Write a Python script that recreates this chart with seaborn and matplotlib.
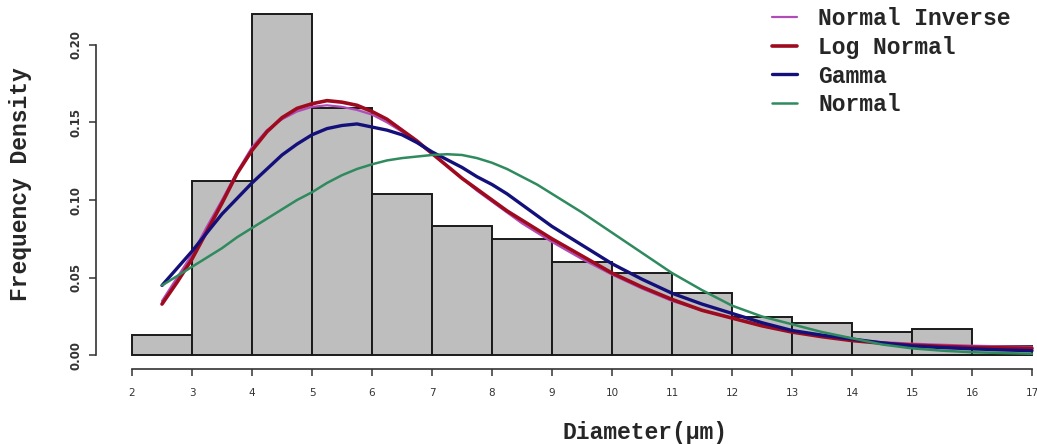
import matplotlib
matplotlib.use('Agg')
import matplotlib.pyplot as plt
import seaborn as sns

# histogram bins (diameter, um) and frequency density
bin_edges = list(range(2, 18))
bin_density = [0.013, 0.1125, 0.220, 0.159, 0.104, 0.083, 0.0746, 0.060,
               0.053, 0.040, 0.0245, 0.0205, 0.0148, 0.0167, 0.006]

# fitted curves (finer steps where they bend most)
curve_x = [2.5, 2.75, 3.0, 3.25, 3.5, 3.75, 4.0, 4.25, 4.5, 4.75, 5.0, 5.25,
           5.5, 5.75, 6.0, 6.25, 6.5, 6.75, 7.0, 7.25, 7.5, 7.75, 8.0, 8.25,
           8.5, 8.75, 9.0,
           9.5, 10.0, 10.5, 11.0, 11.5, 12.0, 12.5, 13.0, 13.5, 14.0, 14.5,
           15.0, 15.5, 16.0, 16.5, 17.0]
normal_inverse = [0.035, 0.050, 0.065, 0.083, 0.100, 0.118, 0.134, 0.145,
                  0.152, 0.157, 0.160, 0.161, 0.160, 0.158, 0.155, 0.150,
                  0.144, 0.137, 0.130, 0.122, 0.114, 0.106, 0.099, 0.092,
                  0.085, 0.079, 0.073,
                  0.062, 0.052, 0.043, 0.035, 0.029, 0.024, 0.019, 0.015,
                  0.0125, 0.010, 0.0085, 0.0075, 0.0068, 0.0062, 0.0058,
                  0.0055]
log_normal = [0.033, 0.047, 0.062, 0.080, 0.098, 0.117, 0.132, 0.144,
              0.153, 0.159, 0.162, 0.164, 0.163, 0.161, 0.157, 0.152,
              0.145, 0.138, 0.130, 0.122, 0.114, 0.107, 0.100, 0.093,
              0.087, 0.081, 0.075,
              0.064, 0.053, 0.044, 0.036, 0.029, 0.024, 0.019, 0.015,
              0.012, 0.0095, 0.0078, 0.0066, 0.0058, 0.0052, 0.0048,
              0.0045]
gamma = [0.045, 0.056, 0.067, 0.079, 0.091, 0.101, 0.111, 0.120,
         0.129, 0.136, 0.142, 0.146, 0.148, 0.149, 0.147, 0.145,
         0.142, 0.137, 0.131, 0.126, 0.121, 0.115, 0.110, 0.104,
         0.097, 0.090, 0.083,
         0.071, 0.059, 0.049, 0.040, 0.033, 0.027, 0.021, 0.016,
         0.013, 0.0105, 0.008, 0.006, 0.005, 0.0042, 0.0035, 0.003]
normal = [0.045, 0.051, 0.057, 0.063, 0.069, 0.076, 0.082, 0.088,
          0.094, 0.100, 0.105, 0.111, 0.116, 0.120, 0.123, 0.1255,
          0.127, 0.128, 0.129, 0.1295, 0.129, 0.127, 0.124, 0.120,
          0.115, 0.110, 0.104,
          0.092, 0.079, 0.066, 0.053, 0.042, 0.032, 0.025, 0.020,
          0.015, 0.011, 0.007, 0.0045, 0.003, 0.002, 0.0015, 0.001]

y_ticks = [0.0, 0.05, 0.10, 0.15, 0.20]
y_labels = ['0.00', '0.05', '0.10', '0.15', '0.20']

sns.set_style('white')
plt.rcParams['font.family'] = ['Liberation Mono', 'DejaVu Sans']

fig = plt.figure(figsize=(10.37, 4.44), dpi=100)
ax = fig.add_axes([96 / 1037, 75 / 444, 972 / 1037, 369 / 444])

mids = [e + 0.5 for e in bin_edges[:-1]]
sns.histplot(x=mids, weights=bin_density, bins=bin_edges, stat='count',
             color='#bebebe', edgecolor='#1a1a1a', linewidth=1.4, alpha=1,
             ax=ax)

sns.lineplot(x=curve_x, y=normal_inverse, color='#b04cb8', lw=1.6,
             label='Normal Inverse', ax=ax)
sns.lineplot(x=curve_x, y=log_normal, color='#9e0a1e', lw=2.6,
             label='Log Normal', ax=ax)
sns.lineplot(x=curve_x, y=gamma, color='#14107a', lw=2.4,
             label='Gamma', ax=ax)
sns.lineplot(x=curve_x, y=normal, color='#2f8a5e', lw=1.8,
             label='Normal', ax=ax)

ax.set_xlim(1.4, 17.6)
ax.set_ylim(-0.0088, 0.2288)

for s in ['top', 'right']:
    ax.spines[s].set_visible(False)
ax.spines['left'].set_bounds(0, 0.20)
ax.spines['bottom'].set_bounds(2, 17)
for s in ['left', 'bottom']:
    ax.spines[s].set_color('#333333')
    ax.spines[s].set_linewidth(1.2)

ax.set_xticks(bin_edges)
ax.set_xticklabels([str(e) for e in bin_edges], family='DejaVu Sans',
                   fontsize=7.5, color='#333333')
ax.set_yticks(y_ticks)
ax.set_yticklabels(y_labels, family='DejaVu Sans', fontsize=8.5,
                   fontweight='bold', color='#333333', rotation=90, va='center')
ax.tick_params(axis='both', direction='out', length=5, width=1.1,
               color='#333333', bottom=True, left=True)
ax.tick_params(axis='x', pad=9)
ax.tick_params(axis='y', pad=5)

ax.set_xlabel('Diameter(µm)', fontsize=16.6, fontweight='bold')
ax.set_ylabel('Frequency Density', fontsize=16.6, fontweight='bold')
ax.xaxis.label.set_va('center')
ax.yaxis.label.set_va('center')
ax.xaxis.set_label_coords(0.565, -0.171)
ax.yaxis.set_label_coords(-0.078, 0.5)

ax.legend(loc='upper left', bbox_to_anchor=(772 / 1037, 1 - 7 / 444),
          bbox_transform=fig.transFigure, frameon=False,
          prop=dict(family='Liberation Mono', weight='bold', size=16.6),
          handlelength=1.1, handletextpad=0.9, labelspacing=0.25,
          borderaxespad=0, borderpad=0)

fig.savefig('out.png', dpi=100)
